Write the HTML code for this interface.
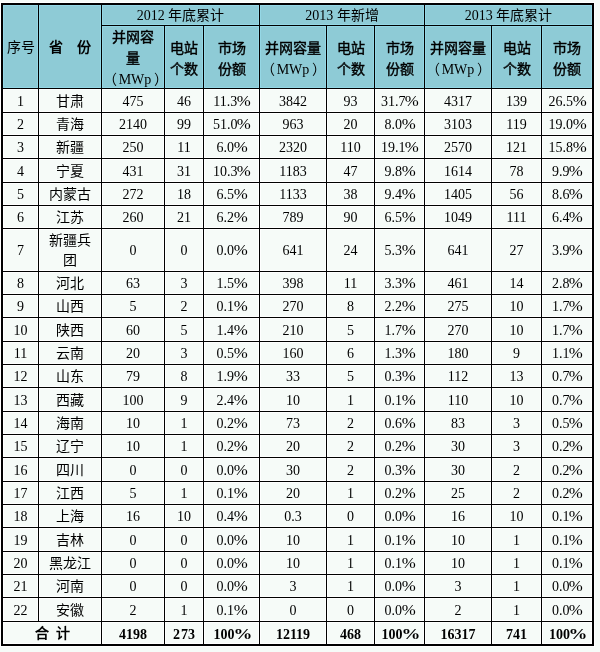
<!DOCTYPE html>
<html lang="zh-CN"><head><meta charset="utf-8"><title>2013 光伏电站统计</title>
<style>
*{margin:0;padding:0;box-sizing:border-box}
html,body{width:600px;height:652px;background:#F6FBF8;overflow:hidden}
body{position:relative;text-spacing-trim:space-all;font-family:"Liberation Serif",serif;font-size:14px;color:#000}
.t{position:absolute;left:1px;top:3px;border:2px solid #000;display:grid;
grid-template-columns:36px 63px 63px 39px 56px 67px 48px 50px 67px 50px 50px;grid-template-rows:21px 63px 24px 23px 23px 24px 23px 23px 43px 23px 23px 24px 23px 23px 24px 23px 23px 24px 23px 23px 24px 23px 23px 24px 22px;background:#F6FBF8;will-change:transform;box-shadow:0 0 0 1px #fff}
.c{border-right:1px solid #000;border-bottom:1px solid #000;display:flex;align-items:center;justify-content:center;text-align:center;white-space:nowrap;line-height:16px;box-shadow:inset 0 0 0 1px #fff}
.h{background:#8ECBD6;box-shadow:inset 0 0 0 1px #95D8E6}
.lc{border-right:none}
.lr{border-bottom:none}
.b{font-weight:bold}
i{font-style:normal}
.fb{-webkit-text-stroke:0.4px #000}
.b .fb{font-weight:normal}
.h2{line-height:21px}
.c>span{position:relative;top:1px}
.h2>span{top:2px}
.h2.k>span{top:1px}
.tt>span{top:2px}
.tt.hj>span{top:1px}
.r7>span{line-height:20px}
.lp{position:relative;left:-2px}
.rp{position:relative;left:3px}
.sh{position:relative;left:2px}
.pc{display:inline-block;transform:scaleX(1.2);margin-left:1px}
.b .pc{transform:scaleX(1.35);margin-left:1px}

</style></head>
<body><div class="t">
<div class="c h" style="grid-area:1/1/3/2"><span>序号</span></div>
<div class="c h" style="grid-area:1/2/3/3"><span><b>省　份</b></span></div>
<div class="c h" style="grid-area:1/3/2/6"><span>2012 年底累计</span></div>
<div class="c h" style="grid-area:1/6/2/9"><span>2013 年新增</span></div>
<div class="c h lc" style="grid-area:1/9/2/12"><span>2013 年底累计</span></div>
<div class="c h h2 k" style="grid-area:2/3/3/4"><span><span class=fb>并网容<br>量</span><br><span class=sh><span class=lp>（</span>MWp<span class=rp>）</span></span></span></div>
<div class="c h h2" style="grid-area:2/4/3/5"><span><span class=fb>电站<br>个数</span></span></div>
<div class="c h h2" style="grid-area:2/5/3/6"><span><span class=fb>市场<br>份额</span></span></div>
<div class="c h h2" style="grid-area:2/6/3/7"><span><span class=fb>并网容量</span><br><span class=lp>（</span>MWp<span class=rp>）</span></span></div>
<div class="c h h2" style="grid-area:2/7/3/8"><span><span class=fb>电站<br>个数</span></span></div>
<div class="c h h2" style="grid-area:2/8/3/9"><span><span class=fb>市场<br>份额</span></span></div>
<div class="c h h2" style="grid-area:2/9/3/10"><span><span class=fb>并网容量</span><br><span class=lp>（</span>MWp<span class=rp>）</span></span></div>
<div class="c h h2" style="grid-area:2/10/3/11"><span><span class=fb>电站<br>个数</span></span></div>
<div class="c h h2 lc" style="grid-area:2/11/3/12"><span><span class=fb>市场<br>份额</span></span></div>
<div class="c" style="grid-area:3/1/4/2"><span>1</span></div>
<div class="c" style="grid-area:3/2/4/3"><span>甘肃</span></div>
<div class="c" style="grid-area:3/3/4/4"><span>475</span></div>
<div class="c" style="grid-area:3/4/4/5"><span>46</span></div>
<div class="c" style="grid-area:3/5/4/6"><span>11.3<i class=pc>%</i></span></div>
<div class="c" style="grid-area:3/6/4/7"><span>3842</span></div>
<div class="c" style="grid-area:3/7/4/8"><span>93</span></div>
<div class="c" style="grid-area:3/8/4/9"><span>31.7<i class=pc>%</i></span></div>
<div class="c" style="grid-area:3/9/4/10"><span>4317</span></div>
<div class="c" style="grid-area:3/10/4/11"><span>139</span></div>
<div class="c lc" style="grid-area:3/11/4/12"><span>26.5<i class=pc>%</i></span></div>
<div class="c" style="grid-area:4/1/5/2"><span>2</span></div>
<div class="c" style="grid-area:4/2/5/3"><span>青海</span></div>
<div class="c" style="grid-area:4/3/5/4"><span>2140</span></div>
<div class="c" style="grid-area:4/4/5/5"><span>99</span></div>
<div class="c" style="grid-area:4/5/5/6"><span>51.0<i class=pc>%</i></span></div>
<div class="c" style="grid-area:4/6/5/7"><span>963</span></div>
<div class="c" style="grid-area:4/7/5/8"><span>20</span></div>
<div class="c" style="grid-area:4/8/5/9"><span>8.0<i class=pc>%</i></span></div>
<div class="c" style="grid-area:4/9/5/10"><span>3103</span></div>
<div class="c" style="grid-area:4/10/5/11"><span>119</span></div>
<div class="c lc" style="grid-area:4/11/5/12"><span>19.0<i class=pc>%</i></span></div>
<div class="c" style="grid-area:5/1/6/2"><span>3</span></div>
<div class="c" style="grid-area:5/2/6/3"><span>新疆</span></div>
<div class="c" style="grid-area:5/3/6/4"><span>250</span></div>
<div class="c" style="grid-area:5/4/6/5"><span>11</span></div>
<div class="c" style="grid-area:5/5/6/6"><span>6.0<i class=pc>%</i></span></div>
<div class="c" style="grid-area:5/6/6/7"><span>2320</span></div>
<div class="c" style="grid-area:5/7/6/8"><span>110</span></div>
<div class="c" style="grid-area:5/8/6/9"><span>19.1<i class=pc>%</i></span></div>
<div class="c" style="grid-area:5/9/6/10"><span>2570</span></div>
<div class="c" style="grid-area:5/10/6/11"><span>121</span></div>
<div class="c lc" style="grid-area:5/11/6/12"><span>15.8<i class=pc>%</i></span></div>
<div class="c" style="grid-area:6/1/7/2"><span>4</span></div>
<div class="c" style="grid-area:6/2/7/3"><span>宁夏</span></div>
<div class="c" style="grid-area:6/3/7/4"><span>431</span></div>
<div class="c" style="grid-area:6/4/7/5"><span>31</span></div>
<div class="c" style="grid-area:6/5/7/6"><span>10.3<i class=pc>%</i></span></div>
<div class="c" style="grid-area:6/6/7/7"><span>1183</span></div>
<div class="c" style="grid-area:6/7/7/8"><span>47</span></div>
<div class="c" style="grid-area:6/8/7/9"><span>9.8<i class=pc>%</i></span></div>
<div class="c" style="grid-area:6/9/7/10"><span>1614</span></div>
<div class="c" style="grid-area:6/10/7/11"><span>78</span></div>
<div class="c lc" style="grid-area:6/11/7/12"><span>9.9<i class=pc>%</i></span></div>
<div class="c" style="grid-area:7/1/8/2"><span>5</span></div>
<div class="c" style="grid-area:7/2/8/3"><span>内蒙古</span></div>
<div class="c" style="grid-area:7/3/8/4"><span>272</span></div>
<div class="c" style="grid-area:7/4/8/5"><span>18</span></div>
<div class="c" style="grid-area:7/5/8/6"><span>6.5<i class=pc>%</i></span></div>
<div class="c" style="grid-area:7/6/8/7"><span>1133</span></div>
<div class="c" style="grid-area:7/7/8/8"><span>38</span></div>
<div class="c" style="grid-area:7/8/8/9"><span>9.4<i class=pc>%</i></span></div>
<div class="c" style="grid-area:7/9/8/10"><span>1405</span></div>
<div class="c" style="grid-area:7/10/8/11"><span>56</span></div>
<div class="c lc" style="grid-area:7/11/8/12"><span>8.6<i class=pc>%</i></span></div>
<div class="c" style="grid-area:8/1/9/2"><span>6</span></div>
<div class="c" style="grid-area:8/2/9/3"><span>江苏</span></div>
<div class="c" style="grid-area:8/3/9/4"><span>260</span></div>
<div class="c" style="grid-area:8/4/9/5"><span>21</span></div>
<div class="c" style="grid-area:8/5/9/6"><span>6.2<i class=pc>%</i></span></div>
<div class="c" style="grid-area:8/6/9/7"><span>789</span></div>
<div class="c" style="grid-area:8/7/9/8"><span>90</span></div>
<div class="c" style="grid-area:8/8/9/9"><span>6.5<i class=pc>%</i></span></div>
<div class="c" style="grid-area:8/9/9/10"><span>1049</span></div>
<div class="c" style="grid-area:8/10/9/11"><span>111</span></div>
<div class="c lc" style="grid-area:8/11/9/12"><span>6.4<i class=pc>%</i></span></div>
<div class="c" style="grid-area:9/1/10/2"><span>7</span></div>
<div class="c r7" style="grid-area:9/2/10/3"><span>新疆兵<br>团</span></div>
<div class="c" style="grid-area:9/3/10/4"><span>0</span></div>
<div class="c" style="grid-area:9/4/10/5"><span>0</span></div>
<div class="c" style="grid-area:9/5/10/6"><span>0.0<i class=pc>%</i></span></div>
<div class="c" style="grid-area:9/6/10/7"><span>641</span></div>
<div class="c" style="grid-area:9/7/10/8"><span>24</span></div>
<div class="c" style="grid-area:9/8/10/9"><span>5.3<i class=pc>%</i></span></div>
<div class="c" style="grid-area:9/9/10/10"><span>641</span></div>
<div class="c" style="grid-area:9/10/10/11"><span>27</span></div>
<div class="c lc" style="grid-area:9/11/10/12"><span>3.9<i class=pc>%</i></span></div>
<div class="c" style="grid-area:10/1/11/2"><span>8</span></div>
<div class="c" style="grid-area:10/2/11/3"><span>河北</span></div>
<div class="c" style="grid-area:10/3/11/4"><span>63</span></div>
<div class="c" style="grid-area:10/4/11/5"><span>3</span></div>
<div class="c" style="grid-area:10/5/11/6"><span>1.5<i class=pc>%</i></span></div>
<div class="c" style="grid-area:10/6/11/7"><span>398</span></div>
<div class="c" style="grid-area:10/7/11/8"><span>11</span></div>
<div class="c" style="grid-area:10/8/11/9"><span>3.3<i class=pc>%</i></span></div>
<div class="c" style="grid-area:10/9/11/10"><span>461</span></div>
<div class="c" style="grid-area:10/10/11/11"><span>14</span></div>
<div class="c lc" style="grid-area:10/11/11/12"><span>2.8<i class=pc>%</i></span></div>
<div class="c" style="grid-area:11/1/12/2"><span>9</span></div>
<div class="c" style="grid-area:11/2/12/3"><span>山西</span></div>
<div class="c" style="grid-area:11/3/12/4"><span>5</span></div>
<div class="c" style="grid-area:11/4/12/5"><span>2</span></div>
<div class="c" style="grid-area:11/5/12/6"><span>0.1<i class=pc>%</i></span></div>
<div class="c" style="grid-area:11/6/12/7"><span>270</span></div>
<div class="c" style="grid-area:11/7/12/8"><span>8</span></div>
<div class="c" style="grid-area:11/8/12/9"><span>2.2<i class=pc>%</i></span></div>
<div class="c" style="grid-area:11/9/12/10"><span>275</span></div>
<div class="c" style="grid-area:11/10/12/11"><span>10</span></div>
<div class="c lc" style="grid-area:11/11/12/12"><span>1.7<i class=pc>%</i></span></div>
<div class="c" style="grid-area:12/1/13/2"><span>10</span></div>
<div class="c" style="grid-area:12/2/13/3"><span>陕西</span></div>
<div class="c" style="grid-area:12/3/13/4"><span>60</span></div>
<div class="c" style="grid-area:12/4/13/5"><span>5</span></div>
<div class="c" style="grid-area:12/5/13/6"><span>1.4<i class=pc>%</i></span></div>
<div class="c" style="grid-area:12/6/13/7"><span>210</span></div>
<div class="c" style="grid-area:12/7/13/8"><span>5</span></div>
<div class="c" style="grid-area:12/8/13/9"><span>1.7<i class=pc>%</i></span></div>
<div class="c" style="grid-area:12/9/13/10"><span>270</span></div>
<div class="c" style="grid-area:12/10/13/11"><span>10</span></div>
<div class="c lc" style="grid-area:12/11/13/12"><span>1.7<i class=pc>%</i></span></div>
<div class="c" style="grid-area:13/1/14/2"><span>11</span></div>
<div class="c" style="grid-area:13/2/14/3"><span>云南</span></div>
<div class="c" style="grid-area:13/3/14/4"><span>20</span></div>
<div class="c" style="grid-area:13/4/14/5"><span>3</span></div>
<div class="c" style="grid-area:13/5/14/6"><span>0.5<i class=pc>%</i></span></div>
<div class="c" style="grid-area:13/6/14/7"><span>160</span></div>
<div class="c" style="grid-area:13/7/14/8"><span>6</span></div>
<div class="c" style="grid-area:13/8/14/9"><span>1.3<i class=pc>%</i></span></div>
<div class="c" style="grid-area:13/9/14/10"><span>180</span></div>
<div class="c" style="grid-area:13/10/14/11"><span>9</span></div>
<div class="c lc" style="grid-area:13/11/14/12"><span>1.1<i class=pc>%</i></span></div>
<div class="c" style="grid-area:14/1/15/2"><span>12</span></div>
<div class="c" style="grid-area:14/2/15/3"><span>山东</span></div>
<div class="c" style="grid-area:14/3/15/4"><span>79</span></div>
<div class="c" style="grid-area:14/4/15/5"><span>8</span></div>
<div class="c" style="grid-area:14/5/15/6"><span>1.9<i class=pc>%</i></span></div>
<div class="c" style="grid-area:14/6/15/7"><span>33</span></div>
<div class="c" style="grid-area:14/7/15/8"><span>5</span></div>
<div class="c" style="grid-area:14/8/15/9"><span>0.3<i class=pc>%</i></span></div>
<div class="c" style="grid-area:14/9/15/10"><span>112</span></div>
<div class="c" style="grid-area:14/10/15/11"><span>13</span></div>
<div class="c lc" style="grid-area:14/11/15/12"><span>0.7<i class=pc>%</i></span></div>
<div class="c" style="grid-area:15/1/16/2"><span>13</span></div>
<div class="c" style="grid-area:15/2/16/3"><span>西藏</span></div>
<div class="c" style="grid-area:15/3/16/4"><span>100</span></div>
<div class="c" style="grid-area:15/4/16/5"><span>9</span></div>
<div class="c" style="grid-area:15/5/16/6"><span>2.4<i class=pc>%</i></span></div>
<div class="c" style="grid-area:15/6/16/7"><span>10</span></div>
<div class="c" style="grid-area:15/7/16/8"><span>1</span></div>
<div class="c" style="grid-area:15/8/16/9"><span>0.1<i class=pc>%</i></span></div>
<div class="c" style="grid-area:15/9/16/10"><span>110</span></div>
<div class="c" style="grid-area:15/10/16/11"><span>10</span></div>
<div class="c lc" style="grid-area:15/11/16/12"><span>0.7<i class=pc>%</i></span></div>
<div class="c" style="grid-area:16/1/17/2"><span>14</span></div>
<div class="c" style="grid-area:16/2/17/3"><span>海南</span></div>
<div class="c" style="grid-area:16/3/17/4"><span>10</span></div>
<div class="c" style="grid-area:16/4/17/5"><span>1</span></div>
<div class="c" style="grid-area:16/5/17/6"><span>0.2<i class=pc>%</i></span></div>
<div class="c" style="grid-area:16/6/17/7"><span>73</span></div>
<div class="c" style="grid-area:16/7/17/8"><span>2</span></div>
<div class="c" style="grid-area:16/8/17/9"><span>0.6<i class=pc>%</i></span></div>
<div class="c" style="grid-area:16/9/17/10"><span>83</span></div>
<div class="c" style="grid-area:16/10/17/11"><span>3</span></div>
<div class="c lc" style="grid-area:16/11/17/12"><span>0.5<i class=pc>%</i></span></div>
<div class="c" style="grid-area:17/1/18/2"><span>15</span></div>
<div class="c" style="grid-area:17/2/18/3"><span>辽宁</span></div>
<div class="c" style="grid-area:17/3/18/4"><span>10</span></div>
<div class="c" style="grid-area:17/4/18/5"><span>1</span></div>
<div class="c" style="grid-area:17/5/18/6"><span>0.2<i class=pc>%</i></span></div>
<div class="c" style="grid-area:17/6/18/7"><span>20</span></div>
<div class="c" style="grid-area:17/7/18/8"><span>2</span></div>
<div class="c" style="grid-area:17/8/18/9"><span>0.2<i class=pc>%</i></span></div>
<div class="c" style="grid-area:17/9/18/10"><span>30</span></div>
<div class="c" style="grid-area:17/10/18/11"><span>3</span></div>
<div class="c lc" style="grid-area:17/11/18/12"><span>0.2<i class=pc>%</i></span></div>
<div class="c" style="grid-area:18/1/19/2"><span>16</span></div>
<div class="c" style="grid-area:18/2/19/3"><span>四川</span></div>
<div class="c" style="grid-area:18/3/19/4"><span>0</span></div>
<div class="c" style="grid-area:18/4/19/5"><span>0</span></div>
<div class="c" style="grid-area:18/5/19/6"><span>0.0<i class=pc>%</i></span></div>
<div class="c" style="grid-area:18/6/19/7"><span>30</span></div>
<div class="c" style="grid-area:18/7/19/8"><span>2</span></div>
<div class="c" style="grid-area:18/8/19/9"><span>0.3<i class=pc>%</i></span></div>
<div class="c" style="grid-area:18/9/19/10"><span>30</span></div>
<div class="c" style="grid-area:18/10/19/11"><span>2</span></div>
<div class="c lc" style="grid-area:18/11/19/12"><span>0.2<i class=pc>%</i></span></div>
<div class="c" style="grid-area:19/1/20/2"><span>17</span></div>
<div class="c" style="grid-area:19/2/20/3"><span>江西</span></div>
<div class="c" style="grid-area:19/3/20/4"><span>5</span></div>
<div class="c" style="grid-area:19/4/20/5"><span>1</span></div>
<div class="c" style="grid-area:19/5/20/6"><span>0.1<i class=pc>%</i></span></div>
<div class="c" style="grid-area:19/6/20/7"><span>20</span></div>
<div class="c" style="grid-area:19/7/20/8"><span>1</span></div>
<div class="c" style="grid-area:19/8/20/9"><span>0.2<i class=pc>%</i></span></div>
<div class="c" style="grid-area:19/9/20/10"><span>25</span></div>
<div class="c" style="grid-area:19/10/20/11"><span>2</span></div>
<div class="c lc" style="grid-area:19/11/20/12"><span>0.2<i class=pc>%</i></span></div>
<div class="c" style="grid-area:20/1/21/2"><span>18</span></div>
<div class="c" style="grid-area:20/2/21/3"><span>上海</span></div>
<div class="c" style="grid-area:20/3/21/4"><span>16</span></div>
<div class="c" style="grid-area:20/4/21/5"><span>10</span></div>
<div class="c" style="grid-area:20/5/21/6"><span>0.4<i class=pc>%</i></span></div>
<div class="c" style="grid-area:20/6/21/7"><span>0.3</span></div>
<div class="c" style="grid-area:20/7/21/8"><span>0</span></div>
<div class="c" style="grid-area:20/8/21/9"><span>0.0<i class=pc>%</i></span></div>
<div class="c" style="grid-area:20/9/21/10"><span>16</span></div>
<div class="c" style="grid-area:20/10/21/11"><span>10</span></div>
<div class="c lc" style="grid-area:20/11/21/12"><span>0.1<i class=pc>%</i></span></div>
<div class="c" style="grid-area:21/1/22/2"><span>19</span></div>
<div class="c" style="grid-area:21/2/22/3"><span>吉林</span></div>
<div class="c" style="grid-area:21/3/22/4"><span>0</span></div>
<div class="c" style="grid-area:21/4/22/5"><span>0</span></div>
<div class="c" style="grid-area:21/5/22/6"><span>0.0<i class=pc>%</i></span></div>
<div class="c" style="grid-area:21/6/22/7"><span>10</span></div>
<div class="c" style="grid-area:21/7/22/8"><span>1</span></div>
<div class="c" style="grid-area:21/8/22/9"><span>0.1<i class=pc>%</i></span></div>
<div class="c" style="grid-area:21/9/22/10"><span>10</span></div>
<div class="c" style="grid-area:21/10/22/11"><span>1</span></div>
<div class="c lc" style="grid-area:21/11/22/12"><span>0.1<i class=pc>%</i></span></div>
<div class="c" style="grid-area:22/1/23/2"><span>20</span></div>
<div class="c" style="grid-area:22/2/23/3"><span>黑龙江</span></div>
<div class="c" style="grid-area:22/3/23/4"><span>0</span></div>
<div class="c" style="grid-area:22/4/23/5"><span>0</span></div>
<div class="c" style="grid-area:22/5/23/6"><span>0.0<i class=pc>%</i></span></div>
<div class="c" style="grid-area:22/6/23/7"><span>10</span></div>
<div class="c" style="grid-area:22/7/23/8"><span>1</span></div>
<div class="c" style="grid-area:22/8/23/9"><span>0.1<i class=pc>%</i></span></div>
<div class="c" style="grid-area:22/9/23/10"><span>10</span></div>
<div class="c" style="grid-area:22/10/23/11"><span>1</span></div>
<div class="c lc" style="grid-area:22/11/23/12"><span>0.1<i class=pc>%</i></span></div>
<div class="c" style="grid-area:23/1/24/2"><span>21</span></div>
<div class="c" style="grid-area:23/2/24/3"><span>河南</span></div>
<div class="c" style="grid-area:23/3/24/4"><span>0</span></div>
<div class="c" style="grid-area:23/4/24/5"><span>0</span></div>
<div class="c" style="grid-area:23/5/24/6"><span>0.0<i class=pc>%</i></span></div>
<div class="c" style="grid-area:23/6/24/7"><span>3</span></div>
<div class="c" style="grid-area:23/7/24/8"><span>1</span></div>
<div class="c" style="grid-area:23/8/24/9"><span>0.0<i class=pc>%</i></span></div>
<div class="c" style="grid-area:23/9/24/10"><span>3</span></div>
<div class="c" style="grid-area:23/10/24/11"><span>1</span></div>
<div class="c lc" style="grid-area:23/11/24/12"><span>0.0<i class=pc>%</i></span></div>
<div class="c" style="grid-area:24/1/25/2"><span>22</span></div>
<div class="c" style="grid-area:24/2/25/3"><span>安徽</span></div>
<div class="c" style="grid-area:24/3/25/4"><span>2</span></div>
<div class="c" style="grid-area:24/4/25/5"><span>1</span></div>
<div class="c" style="grid-area:24/5/25/6"><span>0.1<i class=pc>%</i></span></div>
<div class="c" style="grid-area:24/6/25/7"><span>0</span></div>
<div class="c" style="grid-area:24/7/25/8"><span>0</span></div>
<div class="c" style="grid-area:24/8/25/9"><span>0.0<i class=pc>%</i></span></div>
<div class="c" style="grid-area:24/9/25/10"><span>2</span></div>
<div class="c" style="grid-area:24/10/25/11"><span>1</span></div>
<div class="c lc" style="grid-area:24/11/25/12"><span>0.0<i class=pc>%</i></span></div>
<div class="c b tt hj lr" style="grid-area:25/1/26/3"><span>合<span style="display:inline-block;width:7px"></span>计</span></div>
<div class="c b tt lr" style="grid-area:25/3/26/4"><span>4198</span></div>
<div class="c b tt lr" style="grid-area:25/4/26/5"><span>2<span style="display:inline-block;width:1px"></span>73</span></div>
<div class="c b tt lr" style="grid-area:25/5/26/6"><span>100<i class=pc>%</i></span></div>
<div class="c b tt lr" style="grid-area:25/6/26/7"><span>12119</span></div>
<div class="c b tt lr" style="grid-area:25/7/26/8"><span>468</span></div>
<div class="c b tt lr" style="grid-area:25/8/26/9"><span>100<i class=pc>%</i></span></div>
<div class="c b tt lr" style="grid-area:25/9/26/10"><span>16317</span></div>
<div class="c b tt lr" style="grid-area:25/10/26/11"><span>741</span></div>
<div class="c b tt lc lr" style="grid-area:25/11/26/12"><span>100<i class=pc>%</i></span></div>
</div></body></html>
